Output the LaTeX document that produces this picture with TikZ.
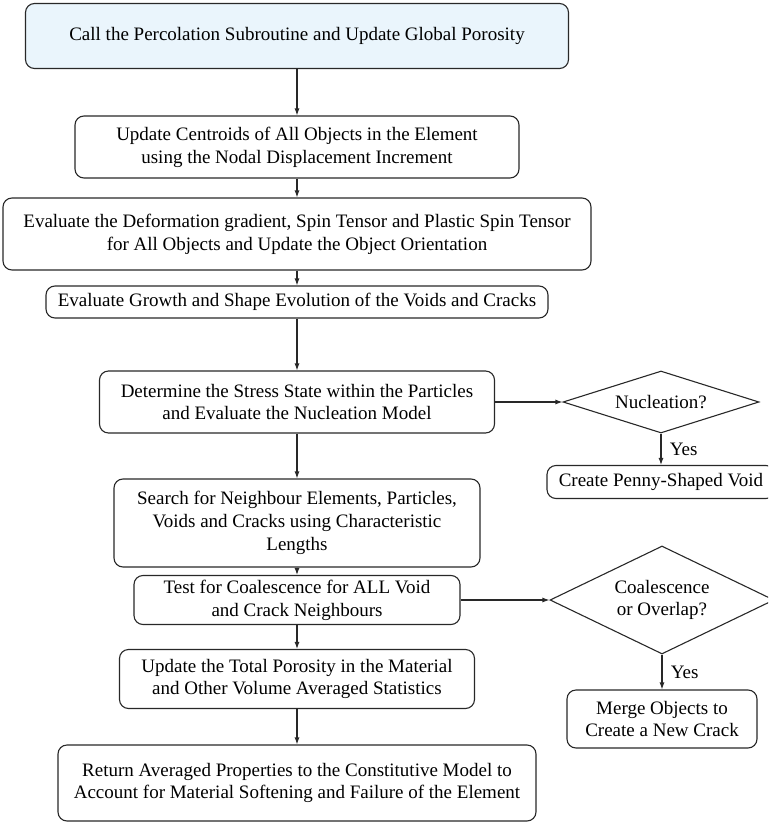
\documentclass[tikz,border=0pt]{standalone}
\usepackage{xcolor}
\usepackage{fontspec}
\setmainfont{Liberation Serif}
\usepackage{tikz}
\usetikzlibrary{shapes.geometric,arrows.meta}
\definecolor{callblue}{RGB}{234,245,252}
\definecolor{lineclr}{RGB}{40,40,40}
\begin{document}
\begin{tikzpicture}
	[x=1pt, y=-1pt, line width=1.1pt, draw=lineclr,
	every node/.style={font=\rmfamily\fontsize{19}{22.8}\selectfont, align=center, text=black},
	stepbox/.style={draw=lineclr, rounded corners=9pt, inner sep=2pt},
	decide/.style={draw=lineclr, diamond, inner sep=0pt},
	arr/.style={draw=lineclr, -{Latex[length=7pt,width=5pt]}}]
	\useasboundingbox (0,0) rectangle (768,824);
	\clip (0,0) rectangle (768,824);
	\node[stepbox, fill=callblue, minimum width=543, minimum height=65] (call) at (297,36) {Call the Percolation Subroutine and Update Global Porosity};
	\node[stepbox, minimum width=444, minimum height=62] (centroid) at (297,147) {Update Centroids of All Objects in the Element\\using the Nodal Displacement Increment};
	\node[stepbox, minimum width=588, minimum height=72] (deform) at (297,234) {Evaluate the Deformation gradient, Spin Tensor and Plastic Spin Tensor\\for All Objects and Update the Object Orientation};
	\node[stepbox, minimum width=502, minimum height=32] (growth) at (297,302) {Evaluate Growth and Shape Evolution of the Voids and Cracks};
	\node[stepbox, minimum width=395, minimum height=62] (stress) at (297,402) {Determine the Stress State within the Particles\\and Evaluate the Nucleation Model};
	\node[stepbox, minimum width=366, minimum height=88] (search) at (297,523) {Search for Neighbour Elements, Particles,\\Voids and Cracks using Characteristic\\Lengths};
	\node[stepbox, minimum width=326, minimum height=49] (coal) at (297,600) {Test for Coalescence for ALL Void\\and Crack Neighbours};
	\node[stepbox, minimum width=355, minimum height=59] (total) at (297,679) {Update the Total Porosity in the Material\\and Other Volume Averaged Statistics};
	\node[stepbox, minimum width=478, minimum height=76] (ret) at (297,783) {Return Averaged Properties to the Constitutive Model to\\Account for Material Softening and Failure of the Element};
	\node[decide, shape aspect=3, minimum width=196, minimum height=62] (nucl) at (661,402) {Nucleation?};
	\node[stepbox, minimum width=228, minimum height=33] (penny) at (661,482) {Create Penny-Shaped Void};
	\node[decide, shape aspect=2, minimum width=224, minimum height=108] (overlap) at (662,600) {Coalescence\\or Overlap?};
	\node[stepbox, minimum width=190, minimum height=58] (merge) at (662,719) {Merge Objects to\\Create a New Crack};
	\draw[arr] (call) -- (centroid);
	\draw[arr] (centroid) -- (deform);
	\draw[arr] (deform) -- (growth);
	\draw[arr] (growth) -- (stress);
	\draw[arr] (stress) -- (search);
	\draw[arr] (search) -- (coal);
	\draw[arr] (coal) -- (total);
	\draw[arr] (total) -- (ret);
	\draw[arr] (stress) -- (nucl);
	\draw[arr] (coal) -- (overlap);
	\draw[arr] (nucl) -- node[right, xshift=5pt] {Yes} (penny);
	\draw[arr] (overlap) -- node[right, xshift=5pt] {Yes} (merge);
\end{tikzpicture}
\end{document}
